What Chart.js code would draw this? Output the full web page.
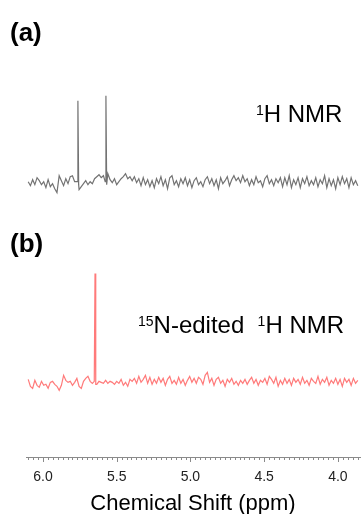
<!DOCTYPE html>
<html>
<head>
<meta charset="utf-8">
<script src="https://cdn.jsdelivr.net/npm/chart.js@4"></script>
<style>
  html, body { margin: 0; padding: 0; background: #fff; }
  canvas { display: block; }
</style>
</head>
<body>
<canvas id="nmr" width="362" height="514"></canvas>
<script>
// Sampling grid of both traces (ppm, high field to the right)
const PPM_START = 6.10;
const PPM_STEP = 0.015;

// (a) 1H spectrum: baseline noise and the two sharp lines
const protonNoise = [
  0, -4, 2, -3, 4, 1, -3, 0, -6, 2,
  -5, -2, -7, -11, 6, 1, -4, 3, -2, 5,
  6, 0, 2, -8, -5, -2, 1, -3, 0, -2,
  3, 5, 7, 4, 6, 0, 8, 2, -1, 3,
  -3, 0, 3, 5, 8, 3, 5, 1, 5, -1,
  3, -4, 4, -3, 2, -5, 1, -6, 3, -2,
  5, -4, 2, -7, 4, 6, -3, 1, -5, 3,
  -2, 4, -4, 2, -6, 1, 4, -3, 0, -5,
  2, 5, -2, 3, -4, 2, -7, 4, -2, 1,
  5, -4, 2, 6, 1, 4, -1, 6, 0, 3,
  -4, 2, -3, 5, -1, 1, -5, 3, 6, -2,
  2, -4, 3, -1, 4, -5, 4, -3, 6, -6,
  2, -3, 4, -6, 3, -2, 5, -4, 1, -3,
  4, -5, 2, -2, 6, -6, 3, -4, 2, -7,
  4, -3, 5, -2, 3, -6, 4, -3, 1, -4
];
const protonPeakPpm = [5.763, 5.573];
const protonPeakHeight = [81, 86];

// (b) 15N-edited 1H spectrum: baseline noise and the single line
const editedNoise = [
  2, -5, -7, 1, -4, -6, 0, -4, -3, -7,
  -1, 0, -3, -5, -9, -4, 6, 1, -1, 0,
  -4, -1, 3, -5, -7, 0, 3, 5, 0, -2,
  -1, -3, 0, -1, -2, 1, -2, 0, -1, -3,
  0, -2, 2, -4, -1, -5, 2, 0, 3, -2,
  5, -1, 2, 6, -2, 4, -3, 2, -2, 4,
  -1, 3, -4, 2, 5, -2, 1, -3, 4, -2,
  2, -4, 1, 5, -1, 3, -2, 4, 2, -3,
  6, 9, -1, 3, -4, 2, 4, -2, 1, -5,
  2, -1, 3, -3, 0, -4, 1, -2, 2, -3,
  1, 4, -2, 2, -4, 1, -1, 3, -3, 5,
  2, -2, 4, -5, 1, -3, 3, -2, 2, -4,
  3, -1, 2, -3, 4, -2, 1, -4, 3, 0,
  -2, 5, -3, 2, -1, 4, -4, 1, -2, 3,
  -3, 2, -5, 3, -1, 2, -4, 3, -2, 1
];
const editedPeakPpm = [5.647];
const editedPeakHeight = [108];

const tickLabels = [6.0, 5.5, 5.0, 4.5, 4.0];
const axisTitle = 'Chemical Shift (ppm)';

// vertical stacking of the two traces (in y-scale units)
const OFFSET_A = 276;
const OFFSET_B = 76;
const FONT = '"Liberation Sans", Arial, sans-serif';

function buildSpectrum(noise, peakPpm, peakHeight, offset) {
  const pts = [];
  noise.forEach((v, i) => {
    const x = +(PPM_START - i * PPM_STEP).toFixed(4);
    if (peakPpm.some(p => Math.abs(p - x) < 0.008)) return;
    pts.push({ x, y: v + offset });
  });
  peakPpm.forEach((p, k) => {
    pts.push({ x: p + 0.005, y: offset });
    pts.push({ x: p, y: offset + peakHeight[k] });
    pts.push({ x: p - 0.005, y: offset - 3 });
  });
  pts.sort((a, b) => b.x - a.x);
  return pts;
}

// minor/major tick marks under the ppm axis (15 minor steps per 0.5 ppm)
const axisTicks = {
  id: 'axisTicks',
  afterDraw(chart) {
    const sx = chart.scales.x;
    const ctx = chart.ctx;
    const y0 = Math.round(chart.chartArea.bottom);
    ctx.save();
    ctx.strokeStyle = '#8a8a8a';
    ctx.lineWidth = 1;
    for (let k = 110; k <= 190; k++) {
      const v = k / 30;
      if (v < sx.min || v > sx.max) continue;
      const px = Math.round(sx.getPixelForValue(v)) + 0.5;
      const len = (k % 15 === 0) ? 5 : 3;
      ctx.beginPath();
      ctx.moveTo(px, y0);
      ctx.lineTo(px, y0 + len);
      ctx.stroke();
    }
    ctx.restore();
  }
};

// panel letters and spectrum names with superscripts
const annotations = [
  { x: 10, y: 41, size: 26, bold: true, runs: [{ t: '(a)' }] },
  { x: 10, y: 252, size: 26, bold: true, runs: [{ t: '(b)' }] },
  { x: 256, y: 122, size: 24, runs: [{ t: '1', sup: true }, { t: 'H NMR' }] },
  { x: 138, y: 333, size: 24, runs: [{ t: '15', sup: true }, { t: 'N-edited  ' }, { t: '1', sup: true }, { t: 'H NMR' }] }
];

const textLabels = {
  id: 'textLabels',
  afterDraw(chart) {
    const ctx = chart.ctx;
    ctx.save();
    ctx.fillStyle = '#000';
    ctx.textBaseline = 'alphabetic';
    ctx.textAlign = 'left';
    annotations.forEach(a => {
      let x = a.x;
      a.runs.forEach(r => {
        if (r.sup) {
          ctx.font = `${Math.round(a.size * 0.58)}px ${FONT}`;
          ctx.fillText(r.t, x, a.y - a.size * 0.3);
        } else {
          ctx.font = `${a.bold ? 'bold ' : ''}${a.size}px ${FONT}`;
          ctx.fillText(r.t, x, a.y);
        }
        x += ctx.measureText(r.t).width;
      });
    });
    ctx.restore();
  }
};

new Chart(document.getElementById('nmr'), {
  type: 'line',
  data: {
    datasets: [
      {
        label: '1H NMR',
        data: buildSpectrum(protonNoise, protonPeakPpm, protonPeakHeight, OFFSET_A),
        borderColor: '#737373',
        borderWidth: 1.2,
        pointRadius: 0,
        tension: 0
      },
      {
        label: '15N-edited 1H NMR',
        data: buildSpectrum(editedNoise, editedPeakPpm, editedPeakHeight, OFFSET_B),
        borderColor: '#ff7a7a',
        borderWidth: 1.2,
        pointRadius: 0,
        tension: 0
      }
    ]
  },
  options: {
    responsive: false,
    devicePixelRatio: 1,
    animation: false,
    events: [],
    layout: { padding: { left: 26, right: 2, top: 0, bottom: 0 } },
    plugins: { legend: { display: false }, tooltip: { enabled: false } },
    scales: {
      x: {
        type: 'linear',
        reverse: true,
        min: 3.85,
        max: 6.115,
        afterBuildTicks: (scale) => { scale.ticks = tickLabels.map(v => ({ value: v })); },
        grid: { display: false, drawTicks: false },
        border: { display: true, color: '#8a8a8a', width: 1 },
        ticks: {
          autoSkip: false,
          maxRotation: 0,
          padding: 12,
          color: '#222',
          font: { family: FONT, size: 14 },
          callback: (v) => Number(v).toFixed(1)
        },
        title: {
          display: true,
          text: axisTitle,
          color: '#000',
          font: { family: FONT, size: 22, lineHeight: 1 },
          padding: { top: -5, bottom: -1 }
        }
      },
      y: { display: false, min: 0, max: 458 }
    }
  },
  plugins: [axisTicks, textLabels]
});
</script>
</body>
</html>
